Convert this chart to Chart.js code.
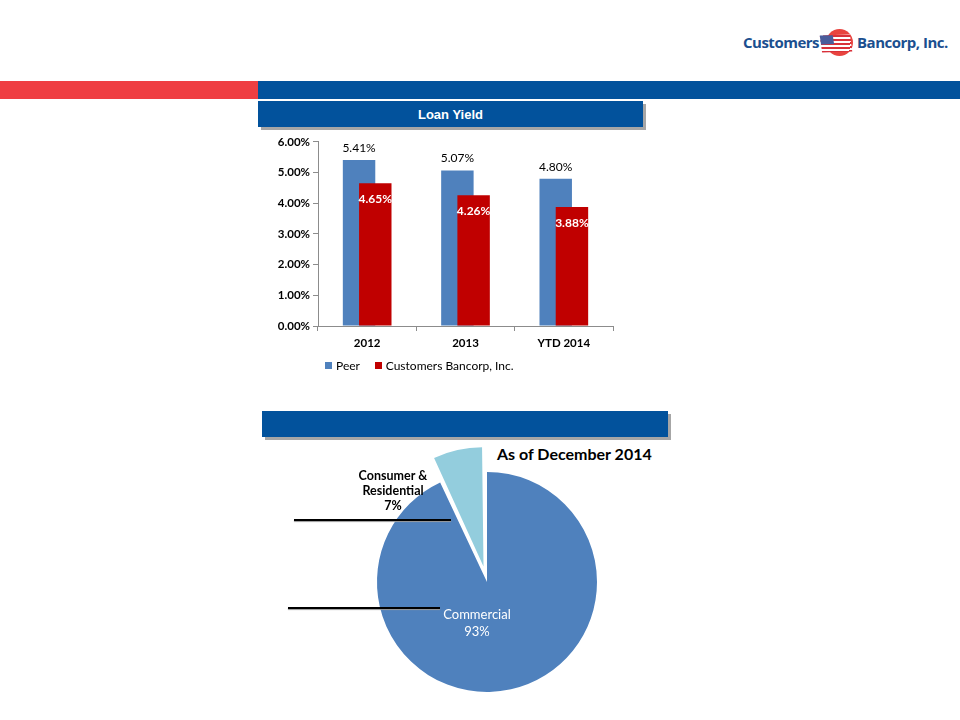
<!DOCTYPE html>
<html>
<head>
<meta charset="utf-8">
<script src="https://cdn.jsdelivr.net/npm/chart.js@4.4.1/dist/chart.umd.min.js"></script>
<style>
  html, body { margin: 0; padding: 0; background: #fff; }
  body { width: 960px; height: 720px; position: relative; overflow: hidden; font-family: Lato, "Open Sans", sans-serif; }
  .abs { position: absolute; }
  .band-red { left: 0; top: 81px; width: 258px; height: 18px; background: #ef3e42; }
  .band-blue { left: 258px; top: 81px; width: 702px; height: 18px; background: #02529c; }
  .hdr { background: #02529c; box-shadow: 3px 3px 0 #a6a6a6; color: #fff; font: bold 13px Arial, "Liberation Sans", sans-serif; text-align: center; }
  .logo-txt { top: 32px; font: bold 15px "Open Sans", sans-serif; color: #1b4f8f; letter-spacing: -0.5px; white-space: nowrap; }
  .flag-circle { left: 826px; top: 29px; width: 27px; height: 27px; border-radius: 50%; background: #e8443f; }
  .flag { left: 821px; top: 35px; width: 30px; height: 17px; transform: rotate(-8deg) skewY(6deg);
          background: repeating-linear-gradient(180deg, #d9313a 0 2px, #fff 2px 4px); }
  .flag:before { content: ""; position: absolute; left: 0; top: 0; width: 13px; height: 9px; background: #4a5d9c; }
  .legend { top: 358px; left: 325px; font-size: 12px; color: #000; white-space: nowrap; }
  .legend span.sw { display: inline-block; width: 7px; height: 7px; margin-right: 4px; vertical-align: 1px; }
  .rule { height: 2px; background: #000; box-shadow: 0 1px 1px #999; }
  .asof { left: 497px; top: 444px; font: bold 16px Lato, sans-serif; color: #000; white-space: nowrap; }
</style>
</head>
<body>

<div class="abs logo-txt" style="left:743px;">Customers</div>
<div class="abs flag-circle"></div>
<div class="abs flag"></div>
<div class="abs logo-txt" style="left:857px;">Bancorp, Inc.</div>
<div class="abs band-red"></div>
<div class="abs band-blue"></div>

<div class="abs hdr" style="left:258px; top:101px; width:385px; height:26px; line-height:27px;">Loan Yield</div>
<canvas id="yieldChart" class="abs" style="left:262px; top:132px;" width="380" height="230"></canvas>
<div class="abs legend">
  <span class="sw" style="background:#4f81bd"></span>Peer
  <span class="sw" style="background:#c00000; margin-left:12px"></span>Customers Bancorp, Inc.
</div>

<div class="abs hdr" style="left:262px; top:411px; width:406px; height:26px;"></div>
<div class="abs asof">As of December 2014</div>
<canvas id="mixChart" class="abs" style="left:337px; top:432px;" width="300" height="300"></canvas>
<div class="abs rule" style="left:294px; top:519px; width:157px;"></div>
<div class="abs rule" style="left:288px; top:607px; width:152px;"></div>

<script>
// ---- data ----
const years = ['2012', '2013', 'YTD 2014'];
const peerYield = [5.41, 5.07, 4.80];
const customersYield = [4.65, 4.26, 3.88];
const yieldTicks = [0, 1, 2, 3, 4, 5, 6];

const mixLabels = ['Commercial', 'Consumer & Residential'];
const mixValues = [93, 7];

const BLUE = '#4f81bd';
const RED = '#c00000';
const pct = v => Number(v).toFixed(2) + '%';

// draw peer first so the red bars sit on top of them, then the value labels
const yieldDraw = {
  id: 'yieldDraw',
  beforeDatasetsDraw(chart) {
    chart.data.datasets.forEach((ds, i) => chart.getDatasetMeta(i).controller.draw());
    return false;
  },
  afterDraw(chart) {
    const ctx = chart.ctx;
    ctx.save();
    ctx.textAlign = 'center';
    ctx.textBaseline = 'middle';
    chart.getDatasetMeta(0).data.forEach((bar, i) => {
      ctx.font = '12px Lato, sans-serif';
      ctx.fillStyle = '#000';
      ctx.fillText(pct(peerYield[i]), bar.x, bar.y - 12);
    });
    chart.getDatasetMeta(1).data.forEach((bar, i) => {
      ctx.font = 'bold 12px Lato, sans-serif';
      ctx.fillStyle = '#fff';
      ctx.fillText(pct(customersYield[i]), bar.x, bar.y + 16);
    });
    ctx.restore();
  }
};

new Chart(document.getElementById('yieldChart'), {
  type: 'bar',
  data: {
    labels: years,
    datasets: [
      { label: 'Peer', data: peerYield, backgroundColor: BLUE },
      { label: 'Customers Bancorp, Inc.', data: customersYield, backgroundColor: RED }
    ]
  },
  options: {
    responsive: false,
    animation: false,
    categoryPercentage: 0.33,
    barPercentage: 2,
    layout: { padding: { top: 9, right: 29, left: 0, bottom: 0 } },
    plugins: { legend: { display: false }, tooltip: { enabled: false } },
    scales: {
      x: {
        grid: { offset: true, drawOnChartArea: false, tickLength: 5, color: '#8c8c8c' },
        border: { color: '#8c8c8c' },
        ticks: { color: '#000', padding: 5, font: { family: 'Lato', size: 11.5, weight: 'bold' } },
        afterFit(scale) { scale.height = 36; }
      },
      y: {
        min: 0,
        max: 6,
        afterBuildTicks(scale) { scale.ticks = yieldTicks.map(v => ({ value: v })); },
        grid: { drawOnChartArea: false, tickLength: 5, color: '#8c8c8c' },
        border: { color: '#8c8c8c' },
        ticks: { color: '#000', padding: 3, font: { family: 'Lato', size: 11.5, weight: 'bold' }, callback: v => pct(v) },
        afterFit(scale) { scale.width = 56; }
      }
    }
  },
  plugins: [yieldDraw]
});

// pie slice labels
const mixText = {
  id: 'mixText',
  afterDraw(chart) {
    const arc = chart.getDatasetMeta(0).data[0];
    const ctx = chart.ctx;
    ctx.save();
    ctx.textAlign = 'center';
    ctx.textBaseline = 'middle';
    ctx.fillStyle = '#000';
    ctx.font = 'bold 12.5px Lato, sans-serif';
    ['Consumer &', 'Residential', mixValues[1] + '%'].forEach((t, i) => ctx.fillText(t, arc.x - 94, arc.y - 106 + i * 15));
    ctx.fillStyle = '#fff';
    ctx.font = '13px Lato, sans-serif';
    ['Commercial', mixValues[0] + '%'].forEach((t, i) => ctx.fillText(t, arc.x - 10, arc.y + 33 + i * 17));
    ctx.restore();
  }
};

new Chart(document.getElementById('mixChart'), {
  type: 'pie',
  data: {
    labels: mixLabels,
    datasets: [{
      data: mixValues,
      backgroundColor: [BLUE, '#93cddd'],
      borderWidth: 0,
      offset: [0, 64],
      radius: 110
    }]
  },
  options: {
    responsive: false,
    animation: false,
    plugins: { legend: { display: false }, tooltip: { enabled: false } }
  },
  plugins: [mixText]
});
</script>
</body>
</html>
